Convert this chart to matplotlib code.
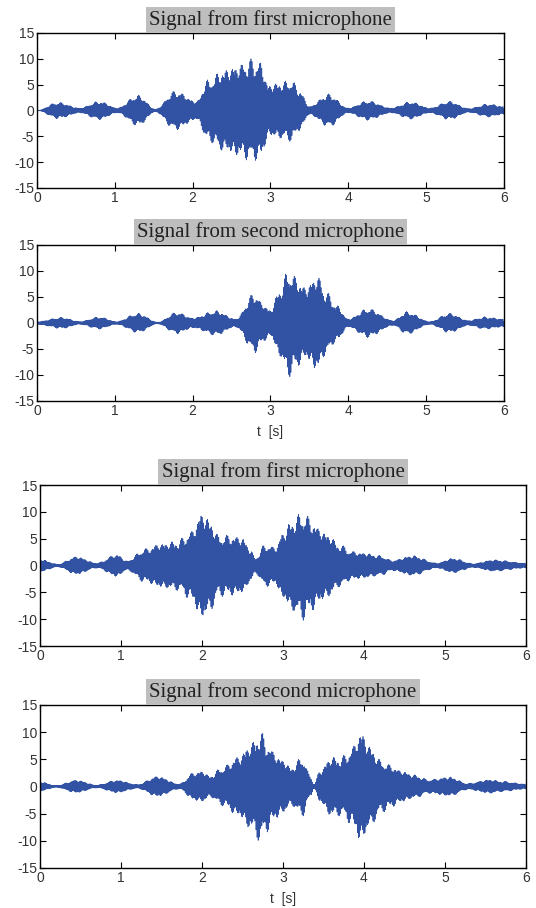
import numpy as np
import matplotlib.pyplot as plt

plt.rcParams['axes.unicode_minus'] = False

# envelope knots (time in s, peak amplitude) for each microphone recording
t_a1 = [0, 0.27, 0.55, 0.8, 1.03, 1.3, 1.52, 1.78, 2.05, 2.2, 2.4, 2.6, 2.75, 2.87,
        2.98, 3.12, 3.27, 3.37, 3.5, 3.75, 4.0, 4.25, 4.55, 4.8, 5.05, 5.3, 5.55, 5.8, 6.0]
a_a1 = [0, 1.6, 0.5, 1.8, 0.5, 3.0, 0.3, 3.8, 1.8, 6.0, 8.0, 9.0, 10.0, 9.5,
        5.0, 5.5, 6.0, 4.0, 0.8, 3.2, 0.5, 1.9, 0.5, 1.7, 0.5, 1.8, 0.4, 1.3, 0.8]

t_a2 = [0, 0.32, 0.55, 0.8, 1.02, 1.3, 1.55, 1.8, 2.0, 2.3, 2.55, 2.8, 2.9, 3.0, 3.12,
        3.23, 3.32, 3.45, 3.6, 3.72, 3.85, 4.0, 4.25, 4.58, 4.75, 5.05, 5.3, 5.55, 5.75, 6.0]
a_a2 = [0.3, 1.1, 0.3, 1.2, 0.3, 1.9, 0.2, 2.1, 1.0, 2.4, 0.8, 5.8, 3.8, 2.5, 6.5,
        10.5, 9.0, 7.0, 9.2, 6.0, 3.5, 0.8, 2.8, 0.5, 2.2, 0.3, 1.9, 0.5, 1.2, 0.8]

t_b1 = [0, 0.22, 0.45, 0.7, 0.95, 1.07, 1.3, 1.5, 1.7, 1.85, 2.0, 2.1, 2.2, 2.35, 2.5,
        2.6, 2.66, 2.78, 2.9, 3.0, 3.1, 3.25, 3.35, 3.45, 3.55, 3.7, 3.85, 4.0, 4.2,
        4.35, 4.6, 4.9, 5.1, 5.35, 5.6, 6.0]
a_b1 = [1.2, 0.3, 1.7, 0.5, 2.1, 0.9, 3.2, 4.2, 4.7, 6.3, 10.0, 8.7, 5.8, 5.7, 5.3,
        3.0, 1.5, 4.0, 3.5, 6.2, 8.5, 10.2, 8.7, 7.0, 6.0, 4.0, 2.7, 2.4, 1.9,
        1.0, 1.9, 0.5, 1.4, 0.4, 1.1, 0.5]

t_b2 = [0, 0.2, 0.45, 0.7, 0.95, 1.2, 1.45, 1.72, 1.9, 2.0, 2.1, 2.25, 2.45, 2.6, 2.72,
        2.8, 2.88, 3.0, 3.1, 3.24, 3.34, 3.38, 3.46, 3.59, 3.72, 3.84, 3.96, 4.08, 4.2,
        4.33, 4.45, 4.62, 4.8, 5.06, 5.28, 5.56, 5.69, 6.0]
a_b2 = [0.9, 0.2, 1.2, 0.3, 1.2, 0.4, 1.9, 0.5, 2.6, 2.9, 2.0, 3.6, 5.6, 8.0, 10.3,
        8.5, 6.5, 5.0, 3.6, 5.5, 2.0, 0.4, 3.0, 5.5, 5.5, 7.0, 10.3, 7.5, 5.0,
        4.0, 3.0, 2.2, 1.3, 1.8, 0.6, 1.3, 1.0, 0.5]

titles = ['Signal from first microphone', 'Signal from second microphone',
          'Signal from first microphone', 'Signal from second microphone']
yticks = [-15, -10, -5, 0, 5, 10, 15]
xticks = [0, 1, 2, 3, 4, 5, 6]

fs = 4000
t = np.arange(0, 6 + 1.0 / fs, 1.0 / fs)
carrier = (0.55 * np.sin(2 * np.pi * 151 * t) + 0.3 * np.sin(2 * np.pi * 223 * t)
           + 0.15 * np.sin(2 * np.pi * 311 * t))


def envelope(tk, ak):
    # cosine-smoothed envelope through the knots
    tk = np.asarray(tk)
    ak = np.asarray(ak)
    idx = np.clip(np.searchsorted(tk, t, side='right') - 1, 0, len(tk) - 2)
    u = (t - tk[idx]) / (tk[idx + 1] - tk[idx])
    w = (1 - np.cos(np.pi * u)) / 2
    return ak[idx] + (ak[idx + 1] - ak[idx]) * w


signals = [envelope(t_a1, a_a1) * carrier, envelope(t_a2, a_a2) * carrier,
           envelope(t_b1, a_b1) * carrier, envelope(t_b2, a_b2) * carrier]

positions = [[0.069, 0.793, 0.871, 0.1707],
             [0.069, 0.5584, 0.871, 0.1718],
             [0.0746, 0.2885, 0.9067, 0.1773],
             [0.0746, 0.0441, 0.9067, 0.1795]]

fig = plt.figure(figsize=(5.36, 9.08), dpi=100)
for i in range(4):
    ax = fig.add_axes(positions[i])
    ax.plot(t, signals[i], color='#3253a4', linewidth=0.5)
    ax.set_xlim(0, 6)
    ax.set_ylim(-15, 15)
    ax.set_xticks(xticks)
    ax.set_yticks(yticks)
    ax.tick_params(direction='in', length=4, top=True, right=True,
                   labelsize=10, pad=2, labelcolor='#333333')
    for lab in ax.get_xticklabels() + ax.get_yticklabels():
        lab.set_fontfamily('Liberation Sans')
    for sp in ax.spines.values():
        sp.set_linewidth(1.0)
    ax.set_title(titles[i], family='Liberation Serif', fontsize=15, color='#222222',
                 pad=6, bbox=dict(facecolor='#bebebe', edgecolor='none', pad=2.2))
    if i in (1, 3):
        ax.set_xlabel('t  [s]', family='Liberation Sans', fontsize=10, labelpad=5,
                      color='#333333')

fig.savefig('out.png', dpi=100)
